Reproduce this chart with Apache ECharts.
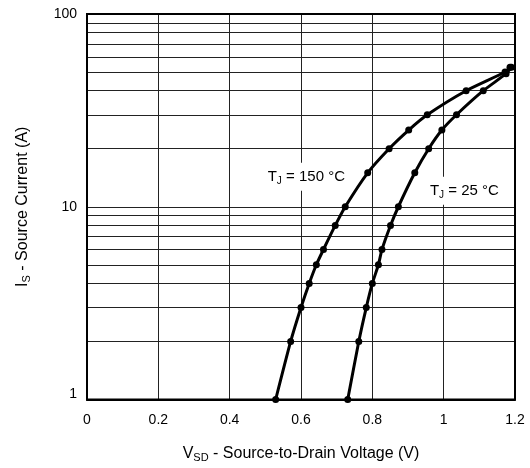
<!DOCTYPE html>
<html><head><meta charset="utf-8">
<script src="https://cdn.jsdelivr.net/npm/echarts@6/dist/echarts.min.js"></script>
<style>html,body{margin:0;padding:0;background:#fff}#c{width:530px;height:468px}</style>
</head><body><div id="c"></div>
<script>
// Data
const tj150 = [[0.529,1],[0.571,2],[0.600,3],[0.623,4],[0.643,5],[0.663,6],[0.696,8],[0.724,10],[0.787,15],[0.847,20],[0.902,25],[0.954,30],[1.063,40],[1.172,50],[1.186,53]];
const tj25  = [[0.731,1],[0.762,2],[0.783,3],[0.800,4],[0.817,5],[0.827,6],[0.851,8],[0.873,10],[0.919,15],[0.958,20],[0.995,25],[1.036,30],[1.111,40],[1.175,49],[1.19,53]];
const minorGridY = [2,3,4,5,6,7,8,9,20,30,40,50,60,70,80,90];
const xTicks = [0,0.2,0.4,0.6,0.8,1,1.2];
const yTicks = [1,10,100];

const FONT = 'Liberation Sans, Arial, Helvetica, sans-serif';
const chart = echarts.init(document.getElementById('c'));
const curveStyle = {
  type:'line', smooth:0.2, symbol:'circle', symbolSize:7,
  itemStyle:{color:'#000'}, lineStyle:{color:'#000', width:3}, z:5, silent:true
};
const titleRich = {
  n:{fontSize:16, fontFamily:FONT, color:'#000', lineHeight:20},
  s:{fontSize:11, fontFamily:FONT, color:'#000', lineHeight:20, padding:[8,0,0,0]}
};
const labelRich = {
  n:{fontSize:15, fontFamily:FONT, color:'#000', lineHeight:18},
  s:{fontSize:10, fontFamily:FONT, color:'#000', lineHeight:18, padding:[8,0,0,0]}
};
chart.setOption({
  animation:false,
  backgroundColor:'#fff',
  textStyle:{fontFamily:FONT},
  grid:{left:87, right:15, top:14, bottom:66, show:true, borderColor:'#000', borderWidth:2, backgroundColor:'transparent', z:10},
  xAxis:{
    type:'value', min:0, max:1.2, interval:0.2,
    axisLine:{show:true, lineStyle:{color:'#000', width:2}},
    axisTick:{show:false},
    axisLabel:{color:'#000', fontSize:14, fontFamily:FONT, margin:14,
      formatter:v=>{ const t = xTicks.find(x=>Math.abs(x-v)<1e-9); return t===undefined?'':String(t);} },
    splitLine:{show:true, lineStyle:{color:'#222', width:1}},
    name:'{n|V}{s|SD}{n| - Source-to-Drain Voltage (V)}',
    nameLocation:'middle', nameGap:44,
    nameTextStyle:{rich:titleRich}
  },
  yAxis:{
    type:'log', logBase:10, min:1, max:100,
    axisLine:{show:true, lineStyle:{color:'#000', width:2}},
    axisTick:{show:false},
    axisLabel:{color:'#000', fontSize:14, fontFamily:FONT, margin:10,
      formatter:v=>{ const t = yTicks.find(y=>Math.abs(y-v)<1e-6); if(t===undefined) return ''; return t===1?'{lo|1}':String(t);},
      rich:{lo:{fontSize:14, fontFamily:FONT, color:'#000', padding:[0,0,10,0]}} },
    splitLine:{show:true, lineStyle:{color:'#222', width:1}},
    name:'{n|I}{s|S}{n| - Source Current (A)}',
    nameLocation:'middle', nameGap:54, nameRotate:90,
    nameTextStyle:{rich:titleRich}
  },
  series:[
    { type:'line', data:[], z:1, silent:true,
      markLine:{ silent:true, symbol:'none', label:{show:false}, animation:false,
        lineStyle:{color:'#222', width:1, type:'solid'},
        data: minorGridY.map(v=>({yAxis:v})) } },
    Object.assign({name:'150', data:tj150,
      markPoint:{ symbol:'rect', symbolSize:1, itemStyle:{color:'transparent'}, silent:true,
        label:{show:true, position:'inside', backgroundColor:'#fff', padding:[5,3,5,3],
          formatter:'{n|T}{s|J}{n| = 150 °C}', rich:labelRich},
        data:[{coord:[0.615,14.3]}] }}, curveStyle),
    Object.assign({name:'25', data:tj25,
      markPoint:{ symbol:'rect', symbolSize:1, itemStyle:{color:'transparent'}, silent:true,
        label:{show:true, position:'inside', backgroundColor:'#fff', padding:[5,3,5,3],
          formatter:'{n|T}{s|J}{n| = 25 °C}', rich:labelRich},
        data:[{coord:[1.058,12.1]}] }}, curveStyle)
  ]
});
</script></body></html>
